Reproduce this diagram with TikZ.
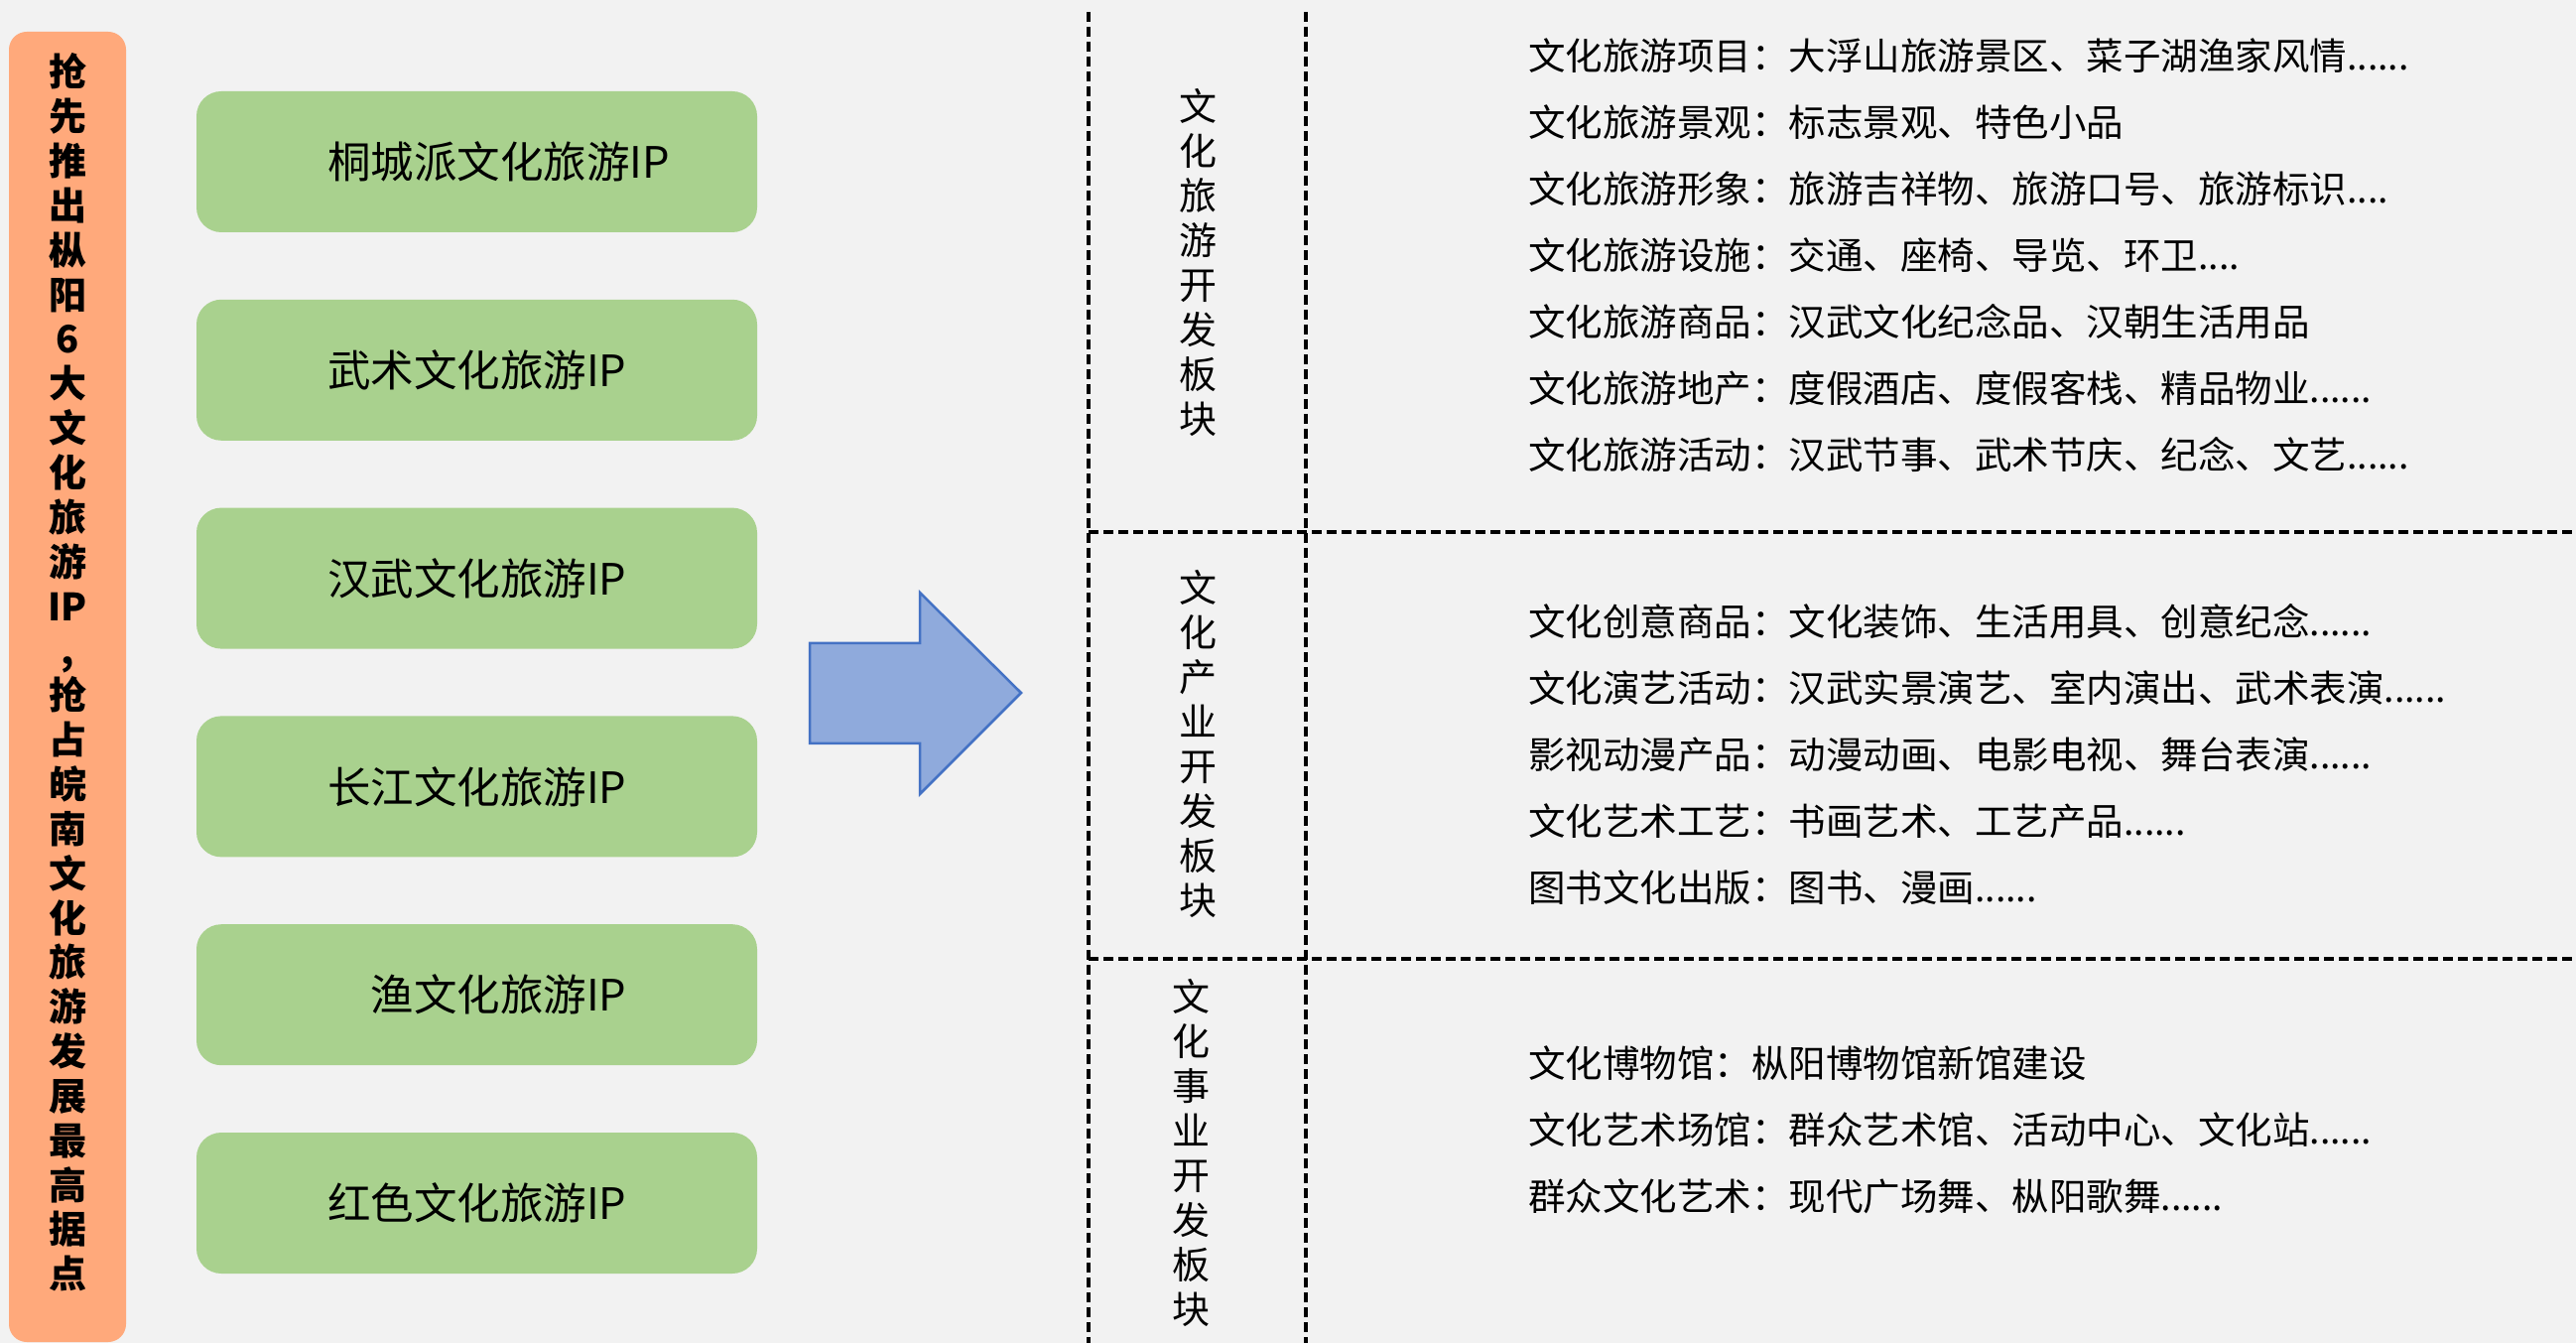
\documentclass[tikz,border=0pt]{standalone}
\usepackage{fontspec}
\setmainfont{Noto Sans CJK SC}
\usetikzlibrary{positioning}
\definecolor{bgcol}{HTML}{F2F2F2}
\definecolor{ipgreen}{HTML}{A9D18E}
\definecolor{headorange}{HTML}{FFA97B}
\definecolor{arrowfill}{HTML}{8FAADC}
\definecolor{arrowline}{HTML}{4472C4}
\newcommand{\ipname}[1]{\makebox[301pt][l]{#1}}

\begin{document}
\begin{tikzpicture}[x=1pt, y=1pt, node distance=67.4pt,
    ipbox/.style={fill=ipgreen, rounded corners=25pt, minimum width=565pt, minimum height=142pt, inner sep=0pt, font=\fontsize{43.5}{50}\selectfont},
    sep/.style={dash pattern=on 10pt off 5pt, line width=3.5pt},
    block/.style={align=center, inner sep=0pt, font=\fontsize{38}{45}\selectfont},
    items/.style={align=left, anchor=west, inner sep=0pt, font=\fontsize{37.5}{67}\selectfont}]
  \fill[bgcol] (0,0) rectangle (2596,1353);
  \useasboundingbox (0,0) rectangle (2596,1353);

  \node (head) [fill=headorange, rounded corners=18pt, minimum width=118pt, minimum height=1320pt] at (68,661) {};
  \node (headtext) [block, font=\bfseries\fontsize{38}{44.85}\selectfont] at (68,675.5)
    {抢\\先\\推\\出\\枞\\阳\\6\\大\\文\\化\\旅\\游\\IP\\,\\抢\\占\\皖\\南\\文\\化\\旅\\游\\发\\展\\最\\高\\据\\点};

  \node (ip1) [ipbox] at (480.5,1190) {\ipname{桐城派文化旅游IP}};
  \node (ip2) [ipbox, below=of ip1] {\ipname{武术文化旅游IP}};
  \node (ip3) [ipbox, below=of ip2] {\ipname{汉武文化旅游IP}};
  \node (ip4) [ipbox, below=of ip3] {\ipname{长江文化旅游IP}};
  \node (ip5) [ipbox, below=of ip4] {\ipname{\hspace*{1em}渔文化旅游IP}};
  \node (ip6) [ipbox, below=of ip5] {\ipname{红色文化旅游IP}};

  \draw [fill=arrowfill, draw=arrowline, line width=2.5pt] (816,705) -- (927,705) -- (927,756) -- (1029,655) -- (927,553) -- (927,604) -- (816,604) -- cycle;

  \draw [sep] (1097,1341) -- (1097,0);
  \draw [sep] (1316,1341) -- (1316,0);
  \draw [sep] (1097,817) -- (2596,817);
  \draw [sep] (1097,387) -- (2596,387);

  \node (tour) [block] at (1207,1088.5) {文\\化\\旅\\游\\开\\发\\板\\块};
  \node (industry) [block] at (1207,604) {文\\化\\产\\业\\开\\发\\板\\块};
  \node (public) [block] at (1200,192) {文\\化\\事\\业\\开\\发\\板\\块};

  \node (tourlist) [items] at (1540,1096) {文化旅游项目：大浮山旅游景区、菜子湖渔家风情......\\
    文化旅游景观：标志景观、特色小品\\
    文化旅游形象：旅游吉祥物、旅游口号、旅游标识....\\
    文化旅游设施：交通、座椅、导览、环卫....\\
    文化旅游商品：汉武文化纪念品、汉朝生活用品\\
    文化旅游地产：度假酒店、度假客栈、精品物业......\\
    文化旅游活动：汉武节事、武术节庆、纪念、文艺......};
  \node (industrylist) [items] at (1540,593) {文化创意商品：文化装饰、生活用具、创意纪念......\\
    文化演艺活动：汉武实景演艺、室内演出、武术表演......\\
    影视动漫产品：动漫动画、电影电视、舞台表演......\\
    文化艺术工艺：书画艺术、工艺产品......\\
    图书文化出版：图书、漫画......};
  \node (publiclist) [items] at (1540,215) {文化博物馆：枞阳博物馆新馆建设\\
    文化艺术场馆：群众艺术馆、活动中心、文化站......\\
    群众文化艺术：现代广场舞、枞阳歌舞......};
\end{tikzpicture}
\end{document}
